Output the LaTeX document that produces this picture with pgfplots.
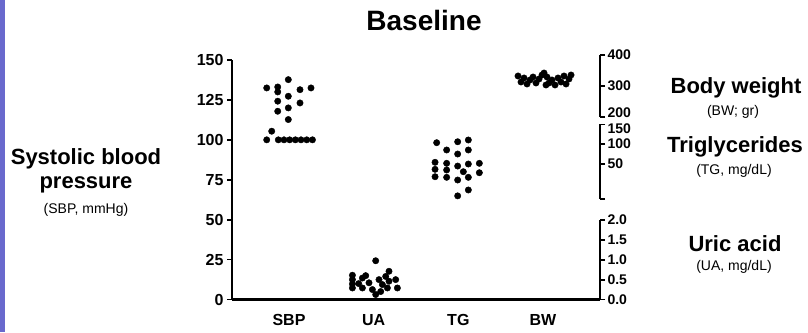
\documentclass[border=0pt]{standalone}
\usepackage{fontspec}
\setmainfont{Liberation Sans}
\usepackage{pgfplots}
\pgfplotsset{compat=1.18}
\definecolor{purplebar}{RGB}{105,105,205}

\pgfplotsset{
  base/.style={scale only axis, width=368pt, xmin=0.327, xmax=4.673, clip=false, anchor=south west,
    tick style={line width=1.8pt, black}, axis line style={line width=2.2pt, black},
    tick align=outside, major tick length=5pt,
    ticklabel style={font=\bfseries\fontsize{16}{18}\selectfont},
    /pgf/number format/assume math mode=true},
  rightax/.style={axis x line=none, axis y line*=right,
    yticklabel style={font=\bfseries\fontsize{14}{16}\selectfont, xshift=-1pt, inner ysep=0.3pt}},
  dots/.style={only marks, mark=*, mark size=3.2pt, black},
}

\begin{document}
\begin{tikzpicture}
\path[use as bounding box] (0,0) rectangle (808pt,332pt);
\fill[purplebar] (0,0) rectangle (5pt,332pt);

% Main axis: SBP
\begin{axis}[base, at={(232pt,32.5pt)}, height=239.5pt, ymin=0, ymax=150,
  axis x line*=bottom, axis y line*=left, ytick={0,25,50,75,100,125,150},
  xtick={1,2,3,4}, xticklabels={SBP,UA,TG,BW}, x tick style={draw=none},
  xticklabel style={yshift=-6pt}]
\addplot[dots] coordinates {
(0.992,137.7)
(0.737,132.5) (0.867,133.1) (1.130,131.4) (1.260,132.5)
(0.867,130.0)
(0.992,127.3)
(0.867,124.2)
(1.130,123.1)
(0.992,120.0)
(0.867,117.9)
(0.992,112.7)
(0.796,105.4)
(0.737,100)
(0.874,100) (0.941,100) (1.008,100) (1.075,100) (1.142,100) (1.210,100) (1.277,100)
};
\end{axis}

% UA axis
\begin{axis}[base, rightax, at={(232pt,32.5pt)}, height=79.5pt, ymin=0, ymax=2,
  ytick={0,0.5,1,1.5,2}, yticklabels={0.0,0.5,1.0,1.5,2.0}]
\addplot[dots] coordinates {
(2.024,0.975)
(1.749,0.61) (1.749,0.50) (1.749,0.39) (1.749,0.29)
(1.867,0.54) (1.867,0.29)
(1.945,0.42) (1.985,0.25) (2.024,0.125)
(2.063,0.50) (2.103,0.375) (2.142,0.58)
(2.181,0.71) (2.181,0.46) (2.162,0.29)
(2.260,0.50) (2.280,0.29)
(1.823,0.40) (1.906,0.60) (2.083,0.20)
};
\end{axis}

% TG axis
\begin{axis}[base, rightax, at={(232pt,133pt)}, height=74.5pt, ymin=-40, ymax=150,
  ytick={-40,50,100}, yticklabels={,50,100},
  extra y ticks={150}, extra y tick labels={150},
  extra y tick style={yticklabel style={yshift=-4pt}}]
\addplot[dots] coordinates {
(2.744,103.6) (2.862,85) (2.992,106) (3.118,110.5) (2.992,74.7) (3.118,85)
(2.725,53.6) (2.725,35.7) (2.725,16.8)
(2.862,51) (2.862,34) (2.862,15.3)
(2.992,44) (3.059,29.6) (3.118,49.2) (3.118,15.3) (2.992,8.4)
(3.248,51) (3.248,27) (3.118,-17) (2.992,-32)
};
\end{axis}

% BW axis
\begin{axis}[base, rightax, at={(232pt,215.3pt)}, height=61.7pt, ymin=200, ymax=400,
  ytick={300,400},
  extra y ticks={200}, extra y tick labels={200},
  extra y tick style={yticklabel style={yshift=4pt}}]
\addplot[dots] coordinates {
(3.705,332) (3.740,312.5) (3.776,325.5) (3.811,306) (3.847,319)
(3.882,328.7) (3.917,309.3) (3.953,322.2) (3.988,335.2) (4.012,341.7)
(4.047,328.7) (4.071,309.3) (4.106,319) (4.142,302.8) (4.177,325.5)
(4.213,312.5) (4.248,332) (4.272,306) (4.307,322.2) (4.331,335.2)
(4.035,302.8)
};
\end{axis}

% Titles and labels
\node[anchor=base, font=\bfseries\fontsize{28}{32}\selectfont] at (424pt,301pt) {Baseline};
\node[anchor=base, font=\bfseries\fontsize{22}{26}\selectfont] at (86pt,167pt) {Systolic blood};
\node[anchor=base, font=\bfseries\fontsize{22}{26}\selectfont] at (86pt,143pt) {pressure};
\node[anchor=base, font=\fontsize{14}{16}\selectfont] at (86pt,118pt) {(SBP, mmHg)};
\node[anchor=base, font=\bfseries\fontsize{22}{26}\selectfont] at (736pt,238pt) {Body weight};
\node[anchor=base, font=\fontsize{14}{16}\selectfont] at (733pt,216pt) {(BW; gr)};
\node[anchor=base, font=\bfseries\fontsize{22}{26}\selectfont] at (735pt,179pt) {Triglycerides};
\node[anchor=base, font=\fontsize{14}{16}\selectfont] at (734pt,157pt) {(TG, mg/dL)};
\node[anchor=base, font=\bfseries\fontsize{22}{26}\selectfont] at (735pt,80pt) {Uric acid};
\node[anchor=base, font=\fontsize{14}{16}\selectfont] at (734pt,61pt) {(UA, mg/dL)};
\end{tikzpicture}
\end{document}
